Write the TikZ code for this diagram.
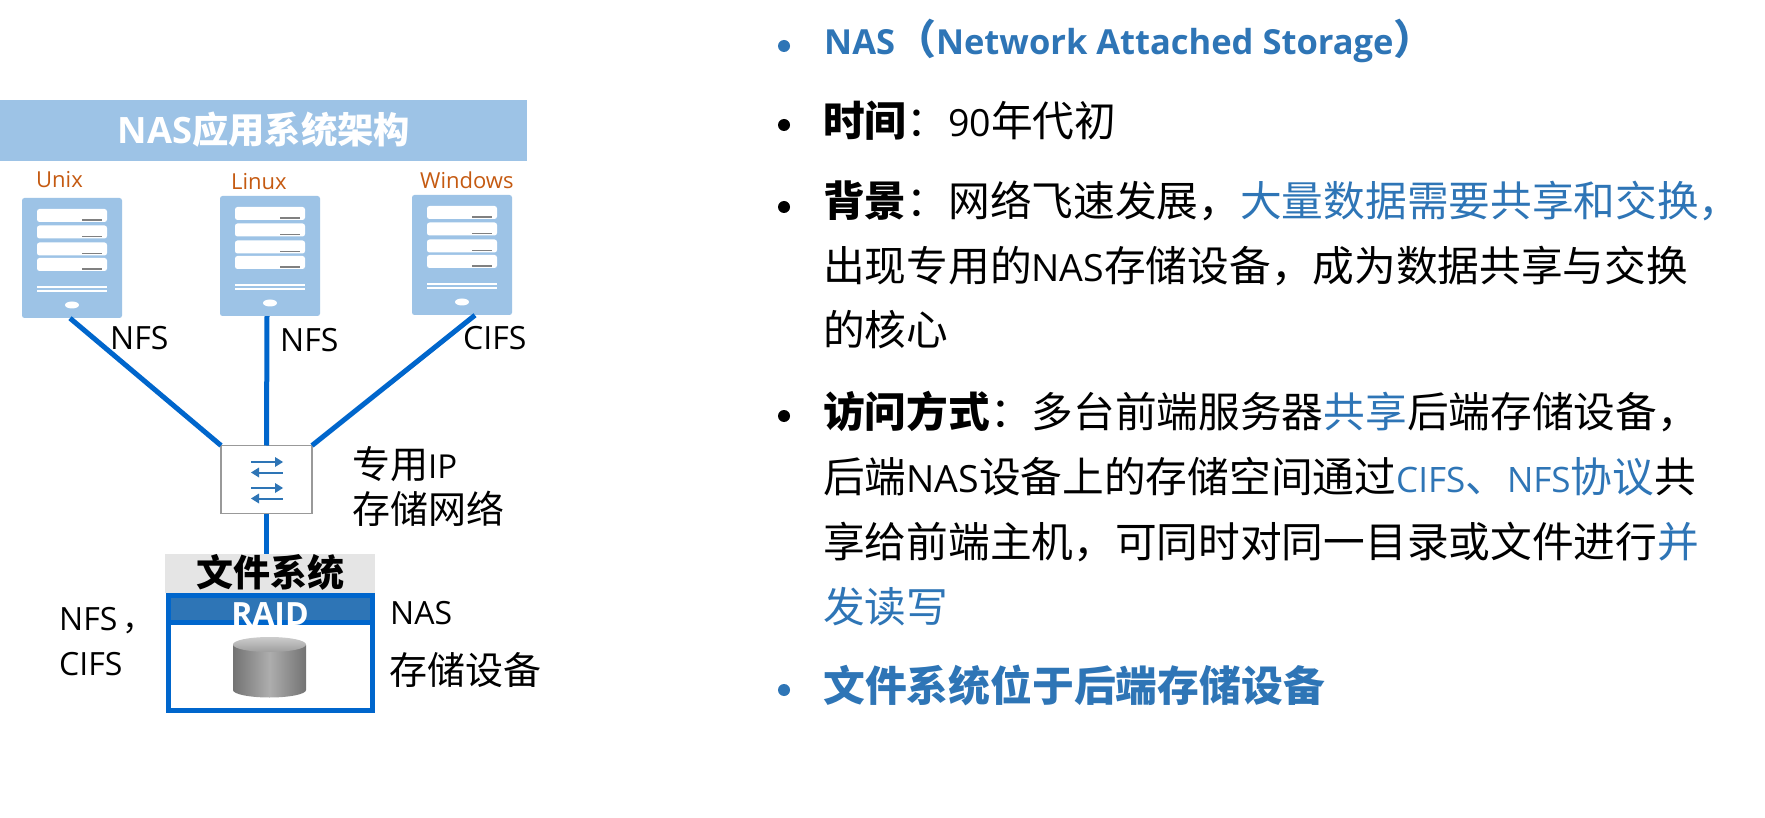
\documentclass[tikz,border=0pt]{standalone}
\usepackage{fontspec}
\setmainfont{Noto Sans CJK SC}
\newfontfamily\latfont{Open Sans}
\newcommand{\lat}[1]{{\latfont #1}}
\newcommand{\fs}[1]{\fontsize{#1}{#1}\selectfont}
% Latin runs inside the body text are set a little smaller than the Chinese
\newcommand{\blat}[1]{{\fs{37.5}\latfont #1}}
\newcommand{\plat}[1]{{\fs{35}\latfont #1}}
\definecolor{barblue}{HTML}{9DC3E6}
\definecolor{accent}{HTML}{2E75B6}
\definecolor{linkblue}{HTML}{0066CC}
\definecolor{osorange}{HTML}{C55A11}
\tikzset{
  x=1pt,y=-1pt,
  bodyline/.style={anchor=base west,inner sep=0pt,font=\fs{41.7}},
  bulletdot/.style={circle,fill=#1,inner sep=0pt,minimum size=12pt},
  label/.style={anchor=base west,inner sep=0pt,font=\fs{32}},
  cnlabel/.style={anchor=base west,inner sep=0pt,font=\fs{38}},
  oslabel/.style={anchor=base west,inner sep=0pt,text=osorange,font=\fs{22}\latfont},
  serverbody/.style={fill=barblue,rounded corners=2.5pt,minimum width=100pt,minimum height=120pt,inner sep=0pt},
  link/.style={linkblue,line width=5pt},
}
% One rack server: body with four drive bays, two vents and a power button
\newcommand{\serverat}[3]{%
  \node[serverbody] (#3) at (#1+50,#2+60) {};
  \begin{scope}[shift={(#1,#2)}]
    \foreach \yy in {11,27.5,44.5,60}{
      \fill[white,rounded corners=2.5pt] (15,\yy) rectangle (85,\yy+13);
      \fill[gray] (60,\yy+10.5) rectangle (80,\yy+12);
    }
    \fill[white] (15,88) rectangle (85,90);
    \fill[white] (15,92) rectangle (85,94);
    \fill[white] (50,107) ellipse [x radius=7,y radius=3.5];
  \end{scope}%
}
\begin{document}
\begin{tikzpicture}
\useasboundingbox (0,0) rectangle (1765,818);
\fill[white] (0,0) rectangle (1765,818);

% Heading bar
\node[fill=barblue,minimum width=527pt,minimum height=61pt,inner sep=0pt,anchor=north west] (bar) at (0,100) {};
\node[text=white,inner sep=0pt,font=\fs{36.3}\bfseries] (bartitle) at (264,130) {\lat{NAS}应用系统架构};

% Hosts
\serverat{22}{198}{hostunix}
\serverat{220}{196}{hostlinux}
\serverat{412}{195}{hostwin}
\node[oslabel] (osunix) at (36,188) {Unix};
\node[oslabel] (oslinux) at (231,190) {Linux};
\node[oslabel] (oswin) at (420,189) {Windows};

% Switch
\node[draw=black!40,line width=1.5pt,outer sep=0pt,fill=white,minimum width=91pt,minimum height=68pt,inner sep=0pt,anchor=north west] (switch) at (221,445.5) {};
\begin{scope}[accent,line width=2pt]
  \foreach \yy in {462,488}{
    \draw (251,\yy) -- (278,\yy);
    \fill (275,\yy-5) -- (283,\yy) -- (275,\yy+5) -- cycle;
    \draw (256,\yy+10.5) -- (283,\yy+10.5);
    \fill (259,\yy+5.5) -- (251,\yy+10.5) -- (259,\yy+15.5) -- cycle;
  }
\end{scope}

% Storage unit
\node[fill=black!10,minimum width=210pt,minimum height=39pt,inner sep=0pt,anchor=north west] (fsband) at (165,554) {};
\node[inner sep=0pt,font=\fs{37}\bfseries] (fstext) at (270,572) {文件系统};
\fill[accent] (168,593) rectangle (373,622);
\node[draw=linkblue,line width=5pt,outer sep=0pt,minimum width=204pt,minimum height=114.5pt,inner sep=0pt,anchor=north west] (nasbox) at (168.5,595.5) {};
\draw[linkblue,line width=4.5pt] (nasbox.west |- 0,622.7) -- (nasbox.east |- 0,622.7);
\node[text=white,inner sep=0pt,anchor=base,font=\fs{32}\latfont\bfseries] (raid) at (270,625) {RAID};

% Disk cylinder
\shade[left color=black!55,right color=black!55,middle color=black!32]
  (233,645) -- (233,690) arc [start angle=180,end angle=0,x radius=36.5,y radius=7.5] -- (306,645) -- cycle;
\shade[top color=black!20,bottom color=black!38] (269.5,644.5) ellipse [x radius=36.5,y radius=7.5];
\node[inner sep=0pt,minimum width=73pt,minimum height=60pt] (disk) at (269.5,667) {};

% Connectors
\draw[link] ([xshift=-2pt]hostunix.south) -- (switch.north west);
\draw[link] ([xshift=-3pt]hostlinux.south) -- (switch.north);
\draw[link] ([xshift=13pt]hostwin.south) -- (switch.north east);
\draw[link] (switch.south) -- (switch.south |- fsband.north);

% Diagram labels
\node[label] (nfsa) at (110,350) {\lat{NFS}};
\node[label] (nfsb) at (280,352) {\lat{NFS}};
\node[label] (cifs) at (463,349) {\lat{CIFS}};
\node[cnlabel] (dedip) at (352,478) {专用\lat{\fs{33}IP}};
\node[cnlabel] (dednet) at (352,523) {存储网络};
\node[label] (nfsc) at (59,630) {\lat{NFS}\,，};
\node[label] (cifsb) at (59,675) {\lat{CIFS}};
\node[label] (nas) at (390,624) {\lat{NAS}};
\node[cnlabel] (nasdev) at (389,684) {存储设备};

% Bullet list
\node[bulletdot=accent] (ba) at (784,46) {};
\node[bulletdot=black] (bb) at (784,125) {};
\node[bulletdot=black] (bc) at (784,207) {};
\node[bulletdot=black] (bd) at (784,416) {};
\node[bulletdot=accent] (be) at (784,690) {};

\node[bodyline,text=accent,font=\fs{34.5}\latfont\bfseries] (la) at (824,55) {NAS{\rmfamily\fs{41}（}Network Attached Storage{\rmfamily\fs{41}）}};
\node[bodyline] (lb) at (823,137) {\textbf{时间}：\blat{90}年代初};
\node[bodyline] (lc) at (823,217) {\textbf{背景}：网络飞速发展，\textcolor{accent}{大量数据需要共享和交换，}};
\node[bodyline] (ld) at (823,282) {出现专用的\blat{NAS}存储设备，成为数据共享与交换};
\node[bodyline] (le) at (823,346) {的核心};
\node[bodyline] (lf) at (823,427) {\textbf{访问方式}：多台前端服务器\textcolor{accent}{共享}后端存储设备，};
\node[bodyline] (lg) at (823,492) {后端\blat{NAS}设备上的存储空间通过\textcolor{accent}{\plat{CIFS}、\plat{NFS}协议}共};
\node[bodyline] (lh) at (823,557) {享给前端主机，可同时对同一目录或文件进行\textcolor{accent}{并}};
\node[bodyline,text=accent] (li) at (823,622) {发读写};
\node[bodyline,text=accent,font=\fs{41.8}\bfseries] (lj) at (823,701) {文件系统位于后端存储设备};
\end{tikzpicture}
\end{document}
